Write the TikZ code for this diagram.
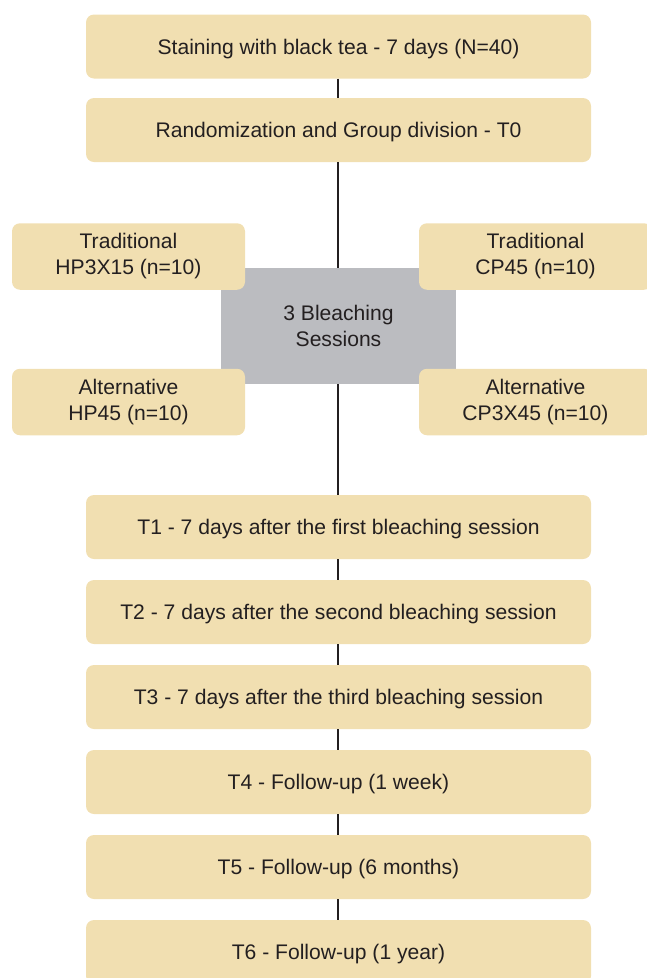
\documentclass[tikz,border=0pt]{standalone}
\usepackage{fontspec}
\setmainfont{Liberation Sans}
\definecolor{beige}{RGB}{241,223,177}
\definecolor{greybox}{RGB}{187,188,192}
\definecolor{txt}{RGB}{35,31,32}
\begin{document}
\begin{tikzpicture}[x=1pt,y=-1pt,
  lbl/.style={text=txt,font=\fontsize{21.1}{26}\selectfont,align=center,inner sep=0pt},
  bx/.style={lbl,fill=beige,rounded corners=8pt,draw=none},
  wide/.style={bx,minimum width=505pt,minimum height=64pt,text height=19pt,text depth=4pt},
  side/.style={bx,minimum width=233pt,minimum height=66.5pt},
  grey/.style={lbl,fill=greybox,minimum width=235pt,minimum height=116pt},
  ln/.style={draw=txt,line width=1.4pt}]
\useasboundingbox (0,0) rectangle (647,978);
% nodes
\node[wide] (s) at (338.5,46.5) {Staining with black tea - 7 days (N=40)};
\node[wide] (r) at (338.5,130) {Randomization and Group division - T0};
\node[grey] (g) at (338.5,326) {3 Bleaching\\Sessions};
\node[side] (a) at (128.5,256.5) {Traditional\\HP3X15 (n=10)};
\node[side] (b) at (535.5,256.5) {Traditional\\CP45 (n=10)};
\node[side] (c) at (128.5,402) {Alternative\\HP45 (n=10)};
\node[side] (d) at (535.5,402) {Alternative\\CP3X45 (n=10)};
\foreach \i/\t in {1/{T1 - 7 days after the first bleaching session},
                  2/{T2 - 7 days after the second bleaching session},
                  3/{T3 - 7 days after the third bleaching session},
                  4/{T4 - Follow-up (1 week)},
                  5/{T5 - Follow-up (6 months)},
                  6/{T6 - Follow-up (1 year)}}{
  \node[wide] (t\i) at (338.5,442+85*\i) {\t};
}
% connectors
\draw[ln] (s.south -| 338,0) -- (r.north -| 338,0);
\draw[ln] (r.south -| 338,0) -- (g.north -| 338,0);
\draw[ln] (g.south -| 338,0) -- (t1.north -| 338,0);
\foreach \i [evaluate=\i as \j using int(\i+1)] in {1,...,5}{
  \draw[ln] (t\i.south -| 338,0) -- (t\j.north -| 338,0);
}
\end{tikzpicture}
\end{document}
